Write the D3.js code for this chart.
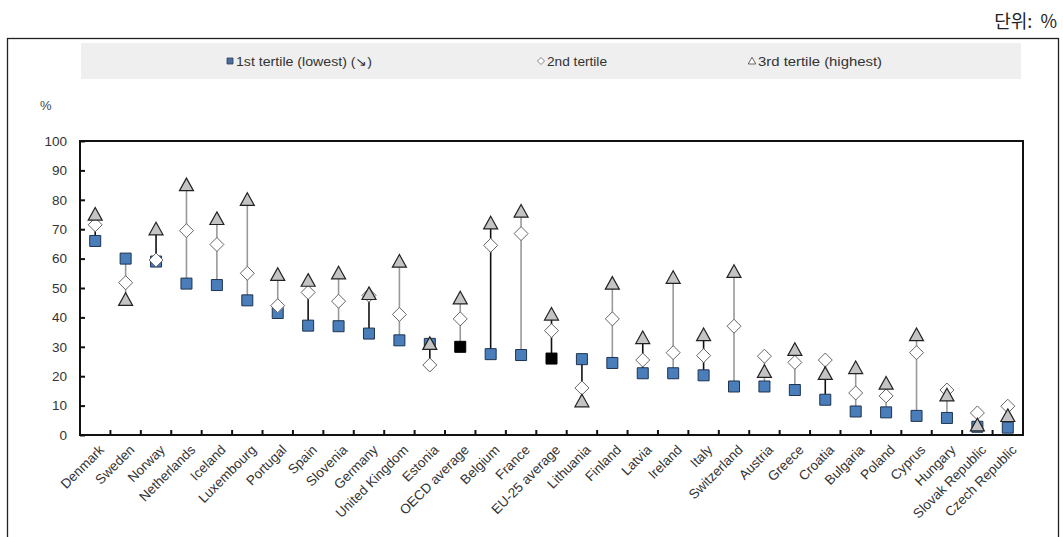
<!DOCTYPE html>
<html><head><meta charset="utf-8">
<script src="https://cdn.jsdelivr.net/npm/d3@7"></script>
<style>
html,body{margin:0;padding:0;background:#fff;}
svg{display:block;font-family:"Liberation Sans",Arial,sans-serif;}
</style></head>
<body>
<svg id="c" width="1063" height="537"></svg>
<script>
const countries = ["Denmark","Sweden","Norway","Netherlands","Iceland","Luxembourg","Portugal","Spain","Slovenia","Germany","United Kingdom","Estonia","OECD average","Belgium","France","EU-25 average","Lithuania","Finland","Latvia","Ireland","Italy","Switzerland","Austria","Greece","Croatia","Bulgaria","Poland","Cyprus","Hungary","Slovak Republic","Czech Republic"];
const tertile1 = [66,60,59,51.5,51,45.8,41.5,37.2,37,34.5,32.2,31,30,27.5,27.2,26,25.8,24.5,21,21,20.3,16.5,16.5,15.3,12,8,7.7,6.5,5.8,2.8,2.5];
const tertile2 = [71.5,51.8,59.5,69.5,64.8,55,44,48.5,45.5,47.5,41,23.8,39.5,64.5,68.5,35.5,16,39.5,25.5,28,27,37,26.8,24.7,25.5,14.3,13.3,28,15.3,7.5,9.8];
const tertile3 = [75,46,70,85,73.5,80,54.5,52.5,55,48,59,31,46.5,72,76,41,11.5,51.5,33,53.5,34,55.5,21.5,29,20.8,22.8,17.5,34,13.5,3.3,6.5];
const averages = ["OECD average","EU-25 average"];
const darkLine = ["Denmark","Norway","Spain","Germany","Estonia","Belgium","EU-25 average","Lithuania","Latvia","Italy","Croatia"];
const yTicks = [0,10,20,30,40,50,60,70,80,90,100];
const legendLabels = ["1st tertile (lowest) (\u2198)","2nd tertile","3rd tertile (highest)"];

const svg = d3.select("#c");
const L = 80, R = 1023, T = 141, B = 435;

const x = d3.scaleBand().domain(countries).range([L, R]).padding(0);
const y = d3.scaleLinear().domain([0, 100]).range([B, T]);

// outer frame
svg.append("rect").attr("x", 7.5).attr("y", 38.5).attr("width", 1051).attr("height", 520)
  .attr("fill", "none").attr("stroke", "#222").attr("stroke-width", 1.3);

// unit label
svg.append("text").attr("x", 1057).attr("y", 28).attr("text-anchor", "end")
  .attr("font-family", "'Noto Sans CJK KR',sans-serif").attr("font-size", 18).attr("fill", "#222")
  .attr("xml:space", "preserve").text("단위:  %");

// legend band
svg.append("rect").attr("x", 81).attr("y", 43).attr("width", 940).attr("height", 36).attr("fill", "#efefef");

// symbols
const sqType = {draw(ctx, s){ const h = Math.sqrt(s)/2; ctx.moveTo(-h,-h); ctx.lineTo(h,-h); ctx.lineTo(h,h); ctx.lineTo(-h,h); ctx.closePath(); }};
const diaType = {draw(ctx, s){ const h = Math.sqrt(s)/2; ctx.moveTo(0,-h); ctx.lineTo(h,0); ctx.lineTo(0,h); ctx.lineTo(-h,0); ctx.closePath(); }};
const triType = {draw(ctx, s){ const h = Math.sqrt(s)/2; ctx.moveTo(0,-h); ctx.lineTo(h,h*0.8); ctx.lineTo(-h,h*0.8); ctx.closePath(); }};

const legX = [230, 541, 752];
const legW = [136, 60, 124];
const legG = svg.append("g");
legendLabels.forEach((lab, i) => {
  const g = legG.append("g").attr("transform", `translate(${legX[i]},61)`);
  if (i === 0) g.append("path").attr("d", d3.symbol(sqType, 36)()).attr("fill", "#4a6e9b").attr("stroke", "#2a3f5c").attr("stroke-width", 0.8);
  if (i === 1) g.append("path").attr("d", d3.symbol(diaType, 49)()).attr("fill", "#fff").attr("stroke", "#666").attr("stroke-width", 0.8);
  if (i === 2) g.append("path").attr("d", d3.symbol(triType, 56)()).attr("fill", "#fff").attr("stroke", "#444").attr("stroke-width", 0.8);
  g.append("text").attr("x", 6).attr("y", 4.5).attr("font-size", 12).attr("fill", "#333")
    .attr("textLength", legW[i]).attr("lengthAdjust", "spacingAndGlyphs").text(lab);
});

// % label
svg.append("text").attr("x", 40).attr("y", 110).attr("font-size", 13).attr("fill", "#444").text("%");

// plot box
svg.append("rect").attr("x", L).attr("y", T).attr("width", R - L).attr("height", B - T)
  .attr("fill", "none").attr("stroke", "#111").attr("stroke-width", 2);

// y axis
const yAxis = d3.axisLeft(y).tickValues(yTicks).tickSize(-5).tickPadding(13).tickFormat(d3.format("d"));
const ya = svg.append("g").attr("transform", `translate(${L},0)`).call(yAxis);
ya.select(".domain").remove();
ya.selectAll(".tick line").attr("stroke", "#111").attr("stroke-width", 2);
ya.selectAll(".tick text").attr("font-size", 13.5).attr("fill", "#333").attr("font-family", "'Liberation Sans',Arial,sans-serif");

// x axis ticks at band boundaries
const bounds = countries.slice(1).map(c => x(c));
svg.append("g").selectAll("line").data(bounds).join("line")
  .attr("x1", d => d).attr("x2", d => d).attr("y1", B).attr("y2", B - 5)
  .attr("stroke", "#111").attr("stroke-width", 2);

// x labels
svg.append("g").selectAll("text").data(countries).join("text")
  .attr("transform", d => `translate(${x(d) + x.bandwidth()/2 + 3},${B + 9}) rotate(-45)`)
  .attr("text-anchor", "end").attr("dy", "0.7em").attr("font-size", 13.5).attr("fill", "#333")
  .text(d => d);

// data
const rows = countries.map((c, i) => ({c, a: tertile1[i], b: tertile2[i], t: tertile3[i]}));
const cx = d => x(d.c) + x.bandwidth()/2;

svg.append("g").selectAll("line").data(rows).join("line")
  .attr("x1", cx).attr("x2", cx)
  .attr("y1", d => y(Math.min(d.a, d.b, d.t))).attr("y2", d => y(Math.max(d.a, d.b, d.t)))
  .attr("stroke", d => darkLine.includes(d.c) ? "#111" : "#999").attr("stroke-width", 1.6);

svg.append("g").selectAll("path").data(rows).join("path")
  .attr("transform", d => `translate(${cx(d)},${y(d.a)})`)
  .attr("d", d3.symbol(sqType, 121)())
  .attr("fill", d => averages.includes(d.c) ? "#000" : "#4a7ebb")
  .attr("stroke", d => averages.includes(d.c) ? "#000" : "#1e3350").attr("stroke-width", 1);

svg.append("g").selectAll("path").data(rows).join("path")
  .attr("transform", d => `translate(${cx(d)},${y(d.b)})`)
  .attr("d", d3.symbol(diaType, 196)())
  .attr("fill", "#fff").attr("stroke", "#666").attr("stroke-width", 1);

svg.append("g").selectAll("path").data(rows).join("path")
  .attr("transform", d => `translate(${cx(d)},${y(d.t)})`)
  .attr("d", d3.symbol(triType, 196)())
  .attr("fill", "#c4c4c4").attr("stroke", "#222").attr("stroke-width", 1.2);
</script>
</body></html>
